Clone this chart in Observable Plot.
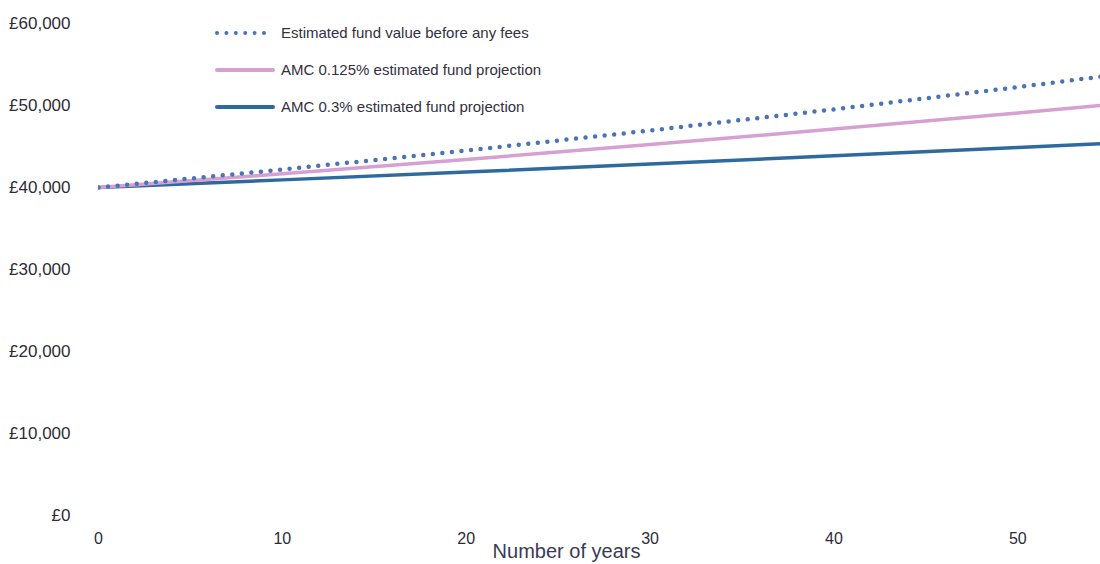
<!DOCTYPE html>
<html>
<head>
<meta charset="utf-8">
<script src="https://cdn.jsdelivr.net/npm/d3@7"></script>
<script src="https://cdn.jsdelivr.net/npm/@observablehq/plot@0.6"></script>
<style>
  body { margin: 0; background: #fff; font-family: "Liberation Sans", Arial, sans-serif; }
  #wrap { position: relative; width: 1100px; height: 564px; overflow: hidden; }
  #legend { position: absolute; left: 214px; top: 14px; font-size: 15px; color: #33303f; }
  .row { display: flex; align-items: center; height: 37px; }
  .row svg { margin-right: 5px; }
</style>
</head>
<body>
<div id="wrap">
  <div id="chart"></div>
  <div id="legend"></div>
</div>
<script>
const years = [0, 10, 20, 30, 40, 50, 55];
const beforeFees = [40000, 42190, 44510, 46950, 49530, 52240, 53660];
const amc0125 = [40000, 41670, 43420, 45230, 47120, 49090, 50110];
const amc03 = [40000, 40930, 41880, 42860, 43860, 44880, 45400];
const seriesNames = [
  "Estimated fund value before any fees",
  "AMC 0.125% estimated fund projection",
  "AMC 0.3% estimated fund projection"
];
const seriesColors = ["#4a74b4", "#d7a0d3", "#2f6a9e"];
const yTicks = [0, 10000, 20000, 30000, 40000, 50000, 60000];
const xTicks = [0, 10, 20, 30, 40, 50];

const valuesBySeries = [beforeFees, amc0125, amc03];
const rows = [];
valuesBySeries.forEach((vals, s) => {
  years.forEach((yr, i) => rows.push({series: seriesNames[s], year: yr, value: vals[i]}));
});

const fmt = d => "£" + d3.format(",")(d);

const chart = Plot.plot({
  width: 1100,
  height: 564,
  marginLeft: 98,
  marginRight: 0,
  marginTop: 23,
  marginBottom: 49,
  style: { fontFamily: "Liberation Sans, Arial, sans-serif", fontSize: "16px", color: "#2e2b38", background: "#fff" },
  x: { domain: [0, 54.5] },
  y: { domain: [0, 60000] },
  marks: [
    Plot.axisY({ ticks: yTicks, tickFormat: fmt, tickSize: 0, tickPadding: 28, label: null, fontSize: 17 }),
    Plot.axisX({ ticks: xTicks, tickSize: 0, tickPadding: 17, label: null }),
    Plot.text(["Number of years"], { frameAnchor: "bottom", dx: -33, dy: 42, fontSize: 20, fill: "#3b3a55" }),
    Plot.line(rows.filter(d => d.series === seriesNames[2]), { x: "year", y: "value", stroke: seriesColors[2], strokeWidth: 3.5, clip: true }),
    Plot.line(rows.filter(d => d.series === seriesNames[1]), { x: "year", y: "value", stroke: seriesColors[1], strokeWidth: 3.5, clip: true }),
    Plot.line(rows.filter(d => d.series === seriesNames[0]), { x: "year", y: "value", stroke: seriesColors[0], strokeWidth: 4.5, strokeDasharray: "0 9.6", strokeLinecap: "round", clip: true })
  ]
});
document.getElementById("chart").appendChild(chart);

const legend = document.getElementById("legend");
seriesNames.forEach((name, i) => {
  const row = document.createElement("div");
  row.className = "row";
  const dotted = i === 0;
  row.innerHTML = `<svg width="62" height="8"><line x1="3" y1="4" x2="59" y2="4" stroke="${seriesColors[i]}" stroke-width="4" ${dotted ? 'stroke-dasharray="0 9.4" stroke-linecap="round"' : 'stroke-linecap="round"'}/></svg><span>${name}</span>`;
  legend.appendChild(row);
});
</script>
</body>
</html>
